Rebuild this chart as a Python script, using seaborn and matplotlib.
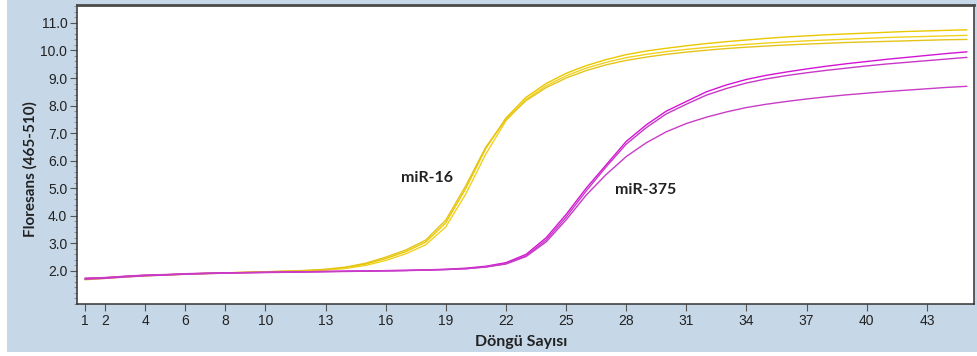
import numpy as np
import pandas as pd
import matplotlib
matplotlib.use("Agg")
import matplotlib.pyplot as plt
from matplotlib.patches import Rectangle
from matplotlib.ticker import MultipleLocator
import seaborn as sns

# Amplification curves: fluorescence (465-510) per PCR cycle
cycles = list(range(1, 46))

mir16_a = [1.70, 1.74, 1.80, 1.84, 1.86, 1.89, 1.91, 1.93, 1.95, 1.97,
           1.99, 2.01, 2.05, 2.12, 2.25, 2.45, 2.70, 3.05, 3.75, 5.00,
           6.45, 7.55, 8.30, 8.80, 9.17, 9.45, 9.67, 9.85, 9.98, 10.08,
           10.17, 10.25, 10.32, 10.38, 10.44, 10.49, 10.53, 10.57, 10.60, 10.63,
           10.66, 10.69, 10.71, 10.73, 10.75]
mir16_b = [1.72, 1.76, 1.79, 1.82, 1.86, 1.88, 1.90, 1.92, 1.94, 1.96,
           1.98, 2.00, 2.03, 2.09, 2.20, 2.38, 2.62, 2.95, 3.60, 4.80,
           6.25, 7.45, 8.22, 8.72, 9.08, 9.36, 9.57, 9.74, 9.86, 9.96,
           10.04, 10.11, 10.17, 10.22, 10.27, 10.31, 10.35, 10.38, 10.41, 10.44,
           10.47, 10.49, 10.51, 10.53, 10.55]
mir16_c = [1.68, 1.73, 1.78, 1.83, 1.85, 1.88, 1.91, 1.93, 1.95, 1.97,
           1.99, 2.02, 2.06, 2.14, 2.28, 2.50, 2.76, 3.12, 3.85, 5.10,
           6.50, 7.50, 8.18, 8.65, 9.00, 9.27, 9.48, 9.64, 9.76, 9.86,
           9.94, 10.01, 10.07, 10.12, 10.16, 10.20, 10.23, 10.26, 10.29, 10.31,
           10.33, 10.35, 10.37, 10.39, 10.40]

mir375_a = [1.72, 1.75, 1.80, 1.84, 1.86, 1.89, 1.91, 1.93, 1.94, 1.95,
            1.96, 1.97, 1.98, 1.99, 2.00, 2.01, 2.02, 2.04, 2.06, 2.10,
            2.17, 2.30, 2.60, 3.20, 4.05, 5.00, 5.85, 6.70, 7.30, 7.80,
            8.15, 8.50, 8.75, 8.95, 9.10, 9.22, 9.33, 9.43, 9.52, 9.60,
            9.68, 9.75, 9.82, 9.89, 9.95]
mir375_b = [1.70, 1.73, 1.78, 1.82, 1.85, 1.88, 1.90, 1.92, 1.93, 1.94,
            1.95, 1.96, 1.97, 1.98, 1.99, 2.00, 2.01, 2.03, 2.05, 2.08,
            2.15, 2.27, 2.55, 3.12, 3.95, 4.90, 5.78, 6.60, 7.20, 7.70,
            8.05, 8.38, 8.62, 8.82, 8.97, 9.09, 9.19, 9.28, 9.36, 9.44,
            9.51, 9.57, 9.63, 9.69, 9.75]
mir375_c = [1.74, 1.76, 1.81, 1.85, 1.87, 1.90, 1.92, 1.93, 1.94, 1.95,
            1.96, 1.97, 1.98, 1.99, 2.00, 2.01, 2.02, 2.03, 2.05, 2.08,
            2.14, 2.25, 2.52, 3.05, 3.85, 4.75, 5.50, 6.15, 6.65, 7.05,
            7.35, 7.58, 7.77, 7.93, 8.05, 8.15, 8.24, 8.32, 8.39, 8.45,
            8.51, 8.56, 8.61, 8.66, 8.70]

x_ticks = [1, 2, 4, 6, 8, 10, 13, 16, 19, 22, 25, 28, 31, 34, 37, 40, 43]
y_ticks = [2.0, 3.0, 4.0, 5.0, 6.0, 7.0, 8.0, 9.0, 10.0, 11.0]

curves = {
    "miR-16 A": mir16_a, "miR-16 B": mir16_b, "miR-16 C": mir16_c,
    "miR-375 A": mir375_a, "miR-375 B": mir375_b, "miR-375 C": mir375_c,
}
palette = {
    "miR-16 A": "#e9c800", "miR-16 B": "#f0d21e", "miR-16 C": "#e4c41a",
    "miR-375 A": "#d414d4", "miR-375 B": "#c838c8", "miR-375 C": "#c83cc8",
}

df = pd.concat(
    [pd.DataFrame({"cycle": cycles, "fluor": vals, "well": name})
     for name, vals in curves.items()],
    ignore_index=True,
)

sns.set_style("white")
plt.rcParams["font.family"] = ["Liberation Sans", "DejaVu Sans"]

fig = plt.figure(figsize=(9.77, 3.56), dpi=100, facecolor="white")
# light blue panel behind the chart
panel = Rectangle((7 / 977, 4 / 356), 970 / 977, 352 / 356,
                  transform=fig.transFigure, facecolor="#c6d7e7",
                  edgecolor="none", zorder=-10)
fig.patches.append(panel)

ax = fig.add_axes([77 / 977, 52 / 356, 897 / 977, 299 / 356])
ax.set_zorder(5)
ax.set_facecolor("white")

sns.lineplot(data=df, x="cycle", y="fluor", hue="well", palette=palette,
             estimator=None, legend=False, linewidth=1.0, ax=ax)

ax.set_xlim(0.6, 45.35)
ax.set_ylim(0.8, 11.65)
ax.set_xticks(x_ticks)
ax.set_xticklabels([str(t) for t in x_ticks])
ax.set_yticks(y_ticks)
ax.set_yticklabels([f"{t:.1f}" for t in y_ticks])
ax.yaxis.set_minor_locator(MultipleLocator(0.2))

ax.tick_params(axis="both", which="major", direction="out", length=5,
               width=0.8, color="#555555", labelsize=10, labelcolor="#222222",
               pad=2, left=True, bottom=True)
ax.tick_params(axis="y", which="minor", direction="out", length=2,
               width=0.6, color="#888888", left=True)

for side, spine in ax.spines.items():
    spine.set_visible(True)
    spine.set_color("#333333")
    spine.set_linewidth(1.1)
ax.spines["top"].set_linewidth(2.0)
ax.spines["top"].set_color("#4a4a4a")

label_font = ["Lato", "DejaVu Sans"]
ax.set_xlabel("Döngü Sayısı", fontsize=11.5, fontweight="bold",
              family=label_font, color="#222222")
ax.xaxis.set_label_coords(0.495, -0.105)
ax.set_ylabel("Floresans (465-510)", fontsize=11, fontweight="bold",
              family=label_font, color="#222222")
ax.yaxis.set_label_coords(-0.044, 0.45)

ax.text(18.06, 5.37, "miR-16", fontsize=11.5, fontweight="bold",
        family=label_font, color="#222222", ha="center", va="center")
ax.text(28.98, 4.94, "miR-375", fontsize=11.5, fontweight="bold",
        family=label_font, color="#222222", ha="center", va="center")

fig.savefig("out.png", dpi=100, facecolor="white")
